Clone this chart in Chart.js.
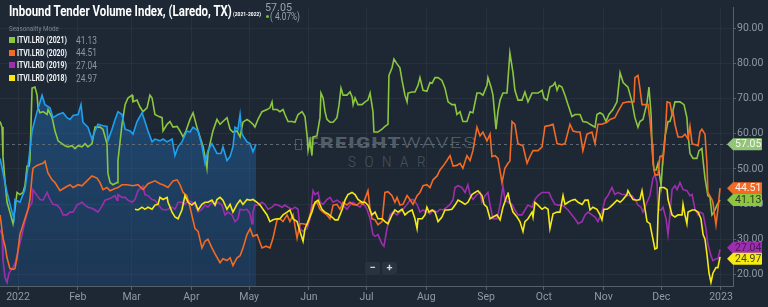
<!DOCTYPE html>
<html>
<head>
<meta charset="utf-8">
<script src="https://cdn.jsdelivr.net/npm/chart.js@4.4.1/dist/chart.umd.min.js"></script>
<style>
  html, body { margin: 0; padding: 0; background: #1d2834; }
  #wrap { position: relative; width: 768px; height: 307px; overflow: hidden; font-family: Roboto, sans-serif; }
  #c { position: absolute; left: 0; top: 0; z-index: 1; }
  .ov { position: absolute; z-index: 2; white-space: nowrap; line-height: 1; transform-origin: 0 50%; }
  .wm { position: absolute; z-index: 0; white-space: nowrap; line-height: 1; transform-origin: 0 50%; }
  .sq { position: absolute; z-index: 2; width: 5.5px; height: 5.5px; }
  .lbl { font-size: 8.5px; font-weight: 700; color: #f2f4f6; }
  .val { font-size: 10px; color: #8c96a0; }
  .btn { position: absolute; z-index: 2; width: 15px; height: 12px; background: #28333f; border-radius: 2px;
         color: #d5dade; font-size: 11px; font-weight: 700; text-align: center; line-height: 12px; }
</style>
</head>
<body>
<div id="wrap">
  <div class="wm" style="left:295px;top:139px;width:5px;height:9px;border:1px solid #4b555f;"></div>
  <div class="wm" data-w="170" style="left:307px;top:136px;font-size:14px;letter-spacing:1px;"><span style="font-weight:900;color:#525c67">FREIGHT</span><span style="font-weight:300;color:#58626d">WAVES</span></div>
  <div class="wm" data-w="86" style="left:348px;top:155px;font-size:14px;font-weight:300;letter-spacing:9px;color:#4a545f">SONAR</div>

  <canvas id="c" width="768" height="307"></canvas>

  <div class="ov" data-w="223" style="left:9px;top:4.2px;font-size:14px;font-weight:700;color:#ffffff">Inbound Tender Volume Index, (Laredo, TX)</div>
  <div class="ov" data-w="28" style="left:233px;top:11.6px;font-size:5.5px;font-weight:700;color:#ffffff">(2021-2022)</div>
  <div class="ov" data-w="27" style="left:265px;top:2.7px;font-size:10.5px;color:#9aa3ab">57.05</div>
  <div class="ov" style="left:265.5px;top:14.5px;width:3.5px;height:3.5px;border-radius:50%;background:#7cc242"></div>
  <div class="ov" data-w="30" style="left:270px;top:11.7px;font-size:10px;color:#9aa3ab">( 4.07%)</div>

  <div class="ov" data-w="50" style="left:9px;top:26px;font-size:7px;color:#7a8590">Seasonality Mode</div>

  <div class="sq" style="left:9px;top:37.3px;background:#8cc63e"></div>
  <div class="ov lbl" data-w="50" style="left:17px;top:36.2px">ITVI.LRD (2021)</div>
  <div class="ov val" data-w="21" style="left:76px;top:35.6px">41.13</div>

  <div class="sq" style="left:9px;top:50px;background:#f26a24"></div>
  <div class="ov lbl" data-w="50" style="left:17px;top:48.9px">ITVI.LRD (2020)</div>
  <div class="ov val" data-w="21" style="left:76px;top:48.3px">44.51</div>

  <div class="sq" style="left:9px;top:62.3px;background:#9c2fad"></div>
  <div class="ov lbl" data-w="50" style="left:17px;top:61.2px">ITVI.LRD (2019)</div>
  <div class="ov val" data-w="21" style="left:76px;top:60.6px">27.04</div>

  <div class="sq" style="left:9px;top:75.3px;background:#f5ea14"></div>
  <div class="ov lbl" data-w="50" style="left:17px;top:74.2px">ITVI.LRD (2018)</div>
  <div class="ov val" data-w="21" style="left:76px;top:73.6px">24.97</div>

  <div class="btn" style="left:365px;top:262px">&minus;</div>
  <div class="btn" style="left:382px;top:262px">+</div>
</div>

<script>
// axis extents and ticks (x in days since 1 Jan 2022)
const xMin = -9.35, xMax = 371.24;
const yMin = 16.66, yMax = 96.02;
const monthDays = [0, 31, 59, 90, 120, 151, 181, 212, 243, 273, 304, 334, 365];
const monthLabels = ['2022', 'Feb', 'Mar', 'Apr', 'May', 'Jun', 'Jul', 'Aug', 'Sep', 'Oct', 'Nov', 'Dec', '2023'];
const yTicks = [20, 30, 40, 50, 60, 70, 80, 90];

// 2022 (current, filled)
const itvi2022 = [
  [-9.3,53.0],[-5.7,43.3],[-3.1,37.7],[-2.1,35.8],[-1.6,41.3],[1.0,40.5],[3.6,44.1],[5.2,50.8],
  [7.3,60.8],[9.9,66.3],[12.5,71.0],[14.0,68.3],[16.6,67.4],[18.2,64.6],[20.8,65.5],[23.4,66.0],
  [25.4,64.6],[27.0,64.1],[28.6,65.2],[31.2,65.5],[32.7,68.3],[33.7,63.3],[36.3,61.9],[38.4,58.5],
  [40.0,60.8],[41.5,62.7],[44.1,62.3],[46.2,62.1],[46.7,58.0],[48.8,61.3],[50.4,64.1],[51.9,66.3],
  [54.0,65.5],[55.6,61.3],[58.2,60.8],[59.7,59.9],[61.8,63.5],[64.4,66.0],[65.9,63.5],[67.5,60.8],
  [69.6,57.7],[71.1,58.5],[73.7,58.0],[75.3,58.5],[77.4,57.7],[80.0,58.5],[81.5,53.8],[83.1,56.3],
  [85.1,57.7],[87.7,60.8],[89.3,60.5],[90.9,61.9],[93.5,60.8],[95.5,56.6],[97.1,51.6],[98.6,55.2],
  [100.7,57.2],[103.3,54.4],[105.4,54.4],[106.4,56.3],[108.5,52.4],[110.1,53.5],[111.6,56.3],[112.7,61.9],
  [114.2,61.3],[115.3,65.5],[116.3,59.9],[118.9,57.7],[120.5,57.2],[122.0,54.9],[123.6,57.05]
];

const itvi2021 = [
  [-9.3,63.5],[-8.3,61.9],[-7.8,53.5],[-6.7,46.1],[-5.7,40.5],[-4.2,37.7],[-2.6,34.4],[-1.6,38.5],
  [-0.5,43.3],[1.0,42.7],[2.6,43.3],[3.6,45.2],[4.7,50.8],[5.7,50.8],[6.2,52.4],[7.3,73.0],
  [8.8,73.3],[9.9,71.0],[10.4,67.4],[11.4,66.0],[13.0,66.3],[15.1,65.5],[15.6,66.9],[17.7,64.6],
  [19.2,60.8],[20.8,58.0],[22.8,57.2],[24.4,56.6],[26.0,56.3],[28.0,56.6],[29.6,55.8],[31.2,56.6],
  [33.2,56.3],[34.8,57.2],[36.3,56.3],[38.4,57.2],[40.0,61.9],[42.6,61.9],[44.1,61.3],[46.2,57.2],
  [46.7,48.8],[47.8,46.1],[49.3,45.5],[51.4,46.1],[51.9,52.4],[54.0,62.7],[55.6,68.3],[57.1,70.2],
  [59.2,71.0],[59.7,69.1],[61.8,69.6],[63.3,67.7],[64.9,66.3],[67.0,67.4],[68.5,71.0],[69.6,70.2],
  [71.1,65.5],[73.2,64.9],[74.8,64.6],[75.3,60.8],[77.4,62.7],[78.9,63.5],[80.5,61.9],[82.6,62.1],
  [84.1,60.8],[85.7,59.1],[87.2,60.8],[89.3,64.1],[90.9,66.0],[92.9,61.9],[94.5,59.1],[96.1,56.3],
  [97.1,53.5],[98.1,50.2],[98.6,54.4],[99.7,57.2],[101.2,60.8],[103.3,64.1],[104.9,62.7],[106.4,63.5],
  [108.5,64.6],[110.1,61.3],[111.6,60.5],[113.7,60.8],[115.3,59.1],[116.8,63.3],[118.9,64.1],[120.5,63.5],
  [122.0,62.7],[123.0,61.9],[124.6,64.1],[126.7,66.3],[129.3,66.9],[130.8,67.4],[131.9,69.1],[132.4,66.9],
  [134.5,66.9],[136.0,66.3],[137.6,66.9],[138.6,65.5],[140.2,63.5],[142.3,63.5],[143.8,63.3],[145.4,65.5],
  [147.5,66.3],[149.0,64.9],[150.1,59.4],[150.6,55.2],[151.6,58.0],[152.6,53.8],[153.2,59.1],[155.2,59.4],
  [156.8,64.6],[157.3,71.6],[158.4,70.2],[159.4,66.3],[160.4,64.1],[162.0,63.3],[163.6,63.3],[165.6,64.6],
  [166.7,68.3],[167.7,73.0],[168.8,71.0],[170.8,71.0],[172.4,71.9],[173.5,70.5],[174.0,68.3],[175.0,70.2],
  [176.5,68.3],[178.6,68.3],[180.2,69.1],[181.7,69.6],[182.8,71.6],[184.3,66.3],[184.8,60.5],[186.9,60.5],
  [189.0,61.3],[190.5,62.1],[192.1,62.7],[192.6,76.6],[194.2,78.8],[195.2,81.3],[196.8,79.9],[198.3,78.8],
  [199.4,75.2],[200.9,71.0],[202.0,69.1],[202.5,71.6],[204.6,71.9],[206.1,71.9],[207.7,73.8],[208.7,76.0],
  [210.3,72.4],[212.3,72.1],[213.9,74.6],[215.0,74.4],[216.5,76.0],[218.1,76.0],[220.1,75.2],[221.7,73.0],
  [223.3,69.1],[225.3,68.3],[226.9,68.3],[227.9,65.5],[229.5,66.3],[231.0,63.5],[233.1,63.5],[234.7,66.3],
  [236.2,66.0],[238.3,71.6],[239.9,71.6],[241.4,71.0],[243.5,73.8],[244.0,76.0],[245.6,73.3],[246.6,71.0],
  [248.2,61.3],[249.2,66.3],[250.3,69.6],[251.8,71.6],[253.9,71.6],[255.4,83.0],[257.0,77.4],[258.0,72.4],
  [259.6,69.6],[261.7,69.6],[263.2,71.9],[264.8,69.1],[266.9,71.6],[268.4,71.6],[270.0,71.6],[272.1,72.4],
  [273.1,70.2],[274.7,69.6],[276.2,73.3],[277.8,73.8],[278.8,74.6],[279.9,72.4],[280.9,73.8],[282.4,73.3],
  [284.0,71.0],[285.6,68.3],[287.6,64.9],[289.2,65.5],[291.8,65.5],[293.3,63.5],[295.4,63.3],[297.0,62.7],
  [299.6,61.9],[300.6,65.5],[302.2,66.0],[303.7,65.5],[305.3,63.5],[306.8,65.5],[308.9,66.9],[311.0,69.1],
  [312.6,77.4],[314.2,74.6],[316.7,73.3],[318.8,69.1],[320.3,64.6],[321.9,61.9],[322.9,63.5],[324.5,64.1],
  [326.6,68.8],[327.6,73.3],[328.7,65.5],[329.2,56.3],[330.2,49.7],[331.3,49.7],[332.3,51.6],[333.9,45.2],
  [334.9,53.5],[335.9,59.1],[337.5,63.5],[338.5,63.5],[339.6,65.5],[341.1,69.1],[343.7,69.1],[345.8,68.3],
  [347.3,64.6],[347.9,59.9],[348.9,54.4],[350.5,53.0],[352.5,53.0],[353.6,55.2],[355.1,55.8],[355.7,52.4],
  [356.7,47.4],[358.2,42.4],[359.3,41.9],[360.3,36.9],[361.4,37.7],[362.9,39.7],[364.5,41.13]
];

const itvi2020 = [
  [-9.3,36.9],[-7.8,30.3],[-6.7,28.0],[-5.7,24.7],[-4.2,21.6],[-2.6,21.4],[-1.6,21.6],[-0.5,24.7],
  [1.0,31.3],[3.6,35.8],[5.2,38.5],[6.2,41.3],[7.3,48.0],[7.8,50.2],[9.9,51.0],[11.4,51.3],
  [13.0,51.6],[14.0,52.2],[15.6,48.8],[17.7,46.9],[19.2,46.1],[21.8,43.8],[24.4,44.7],[27.0,45.5],
  [28.6,44.7],[31.2,45.5],[33.2,45.2],[35.8,46.6],[38.4,48.0],[41.0,47.4],[42.6,46.1],[44.1,44.1],
  [46.2,44.7],[47.8,43.8],[50.4,44.4],[51.9,44.7],[54.0,45.5],[56.6,45.5],[59.7,45.2],[62.3,45.5],
  [64.9,44.1],[67.5,45.8],[71.1,46.6],[73.7,45.8],[75.3,45.5],[77.9,44.7],[80.5,46.6],[82.6,46.9],
  [84.1,45.5],[85.7,43.3],[87.7,42.4],[89.3,39.1],[91.9,33.0],[93.5,32.2],[95.5,27.5],[97.1,29.4],
  [98.6,30.0],[100.7,27.5],[102.3,25.8],[104.9,23.3],[106.4,24.4],[108.5,23.9],[110.1,24.7],[111.6,22.5],
  [113.7,24.7],[115.3,25.3],[116.8,27.5],[118.9,31.3],[120.5,33.0],[122.0,30.8],[124.1,31.3],[126.7,27.5],
  [128.8,28.0],[130.8,27.5],[132.4,30.3],[134.5,35.5],[136.0,35.8],[137.6,35.0],[139.7,36.9],[141.2,35.0],
  [142.8,36.9],[144.9,30.3],[146.4,34.4],[148.0,34.4],[150.1,34.1],[151.6,36.9],[153.2,39.7],[155.2,40.5],
  [156.8,38.5],[158.4,37.7],[160.4,36.9],[162.0,35.8],[163.6,39.7],[165.6,39.9],[167.2,38.5],[168.8,40.5],
  [170.8,39.7],[172.4,40.5],[173.9,39.9],[176.0,39.7],[177.6,40.5],[179.1,39.9],[181.7,43.8],[182.8,38.5],
  [183.8,35.8],[185.4,35.5],[186.9,34.1],[189.0,35.0],[190.5,43.3],[192.1,43.5],[194.2,42.4],[195.7,40.5],
  [196.8,41.9],[198.3,39.7],[199.9,39.9],[202.0,42.4],[203.5,41.3],[205.1,39.9],[207.2,42.4],[208.7,43.3],
  [210.3,45.2],[212.3,45.5],[213.9,44.7],[215.5,46.9],[217.6,48.0],[219.1,49.7],[220.7,50.8],[222.7,52.4],
  [224.3,53.8],[225.9,50.8],[227.9,51.0],[229.5,51.6],[231.0,50.2],[233.1,53.8],[234.7,52.4],[236.2,55.2],
  [238.3,61.9],[239.9,59.4],[241.4,60.5],[243.5,58.0],[245.1,59.9],[246.1,53.5],[247.7,53.8],[249.2,53.0],
  [251.3,46.1],[252.8,50.2],[254.4,51.6],[255.4,52.2],[256.5,63.5],[258.0,62.7],[259.6,57.2],[262.2,56.6],
  [264.3,51.6],[265.8,53.5],[267.4,55.2],[270.0,55.2],[272.1,56.3],[273.6,62.1],[276.2,62.4],[277.8,62.7],
  [279.9,57.2],[282.4,56.9],[284.0,57.2],[286.6,62.7],[288.2,60.8],[290.2,60.5],[291.8,60.5],[293.3,55.2],
  [295.4,59.9],[298.0,60.5],[299.6,57.2],[301.1,62.7],[303.2,62.7],[305.8,63.3],[307.4,64.1],[309.9,64.6],
  [311.5,66.3],[314.1,68.8],[316.7,69.1],[318.8,69.1],[319.8,69.1],[320.3,76.0],[321.9,76.6],[322.9,73.0],
  [324.0,68.3],[327.1,68.3],[328.1,64.1],[329.2,57.2],[329.7,51.6],[330.7,48.3],[332.3,48.3],[333.3,53.5],
  [334.4,53.8],[334.9,52.4],[335.9,58.0],[337.0,69.1],[338.5,68.8],[339.6,65.5],[340.1,66.3],[341.1,62.7],
  [342.7,59.1],[344.8,59.1],[346.3,59.9],[347.9,58.5],[348.9,62.1],[350.0,57.2],[353.1,56.6],[354.1,60.5],
  [355.1,61.3],[356.7,59.9],[357.7,51.6],[358.2,43.3],[360.3,41.3],[360.8,40.5],[362.4,34.1],[363.4,38.5],
  [364.5,44.51]
];

const itvi2019 = [
  [-9.3,32.7],[-8.3,31.3],[-7.8,23.9],[-6.7,19.1],[-5.7,17.7],[-4.7,20.3],[-3.1,21.6],[-1.6,23.0],
  [0.0,26.6],[2.1,31.3],[3.6,35.0],[5.2,38.3],[7.3,40.5],[7.8,44.1],[9.9,42.4],[11.4,41.3],
  [13.0,41.1],[15.1,43.3],[16.6,41.3],[18.2,39.9],[20.2,39.7],[21.8,38.8],[23.4,36.9],[25.4,36.9],
  [27.0,37.7],[28.6,37.7],[30.6,39.7],[33.2,40.5],[34.8,39.7],[36.3,39.1],[38.4,38.8],[40.0,38.3],
  [41.5,37.7],[43.6,39.4],[45.2,41.1],[47.8,41.6],[50.4,42.4],[51.4,41.1],[51.9,42.7],[54.0,41.9],
  [55.6,41.9],[57.1,41.1],[59.2,40.5],[60.7,41.3],[62.3,43.8],[64.9,45.2],[65.9,42.7],[67.5,42.4],
  [69.6,41.3],[71.1,41.1],[72.7,39.9],[74.8,38.5],[76.3,38.3],[77.9,38.5],[80.0,39.1],[81.5,38.5],
  [83.1,40.5],[85.1,40.5],[86.7,39.9],[88.3,41.1],[90.3,40.5],[91.9,39.7],[93.5,37.7],[95.5,38.5],
  [97.1,39.7],[98.6,39.1],[100.7,40.5],[102.3,39.7],[103.8,40.5],[105.9,39.7],[107.5,36.9],[109.0,37.7],
  [111.1,36.9],[112.7,35.0],[114.2,35.8],[115.3,38.5],[116.8,38.3],[118.9,38.5],[120.5,37.2],[121.5,34.4],
  [122.0,37.7],[123.0,39.7],[124.6,39.7],[126.7,40.5],[128.2,39.9],[129.8,38.5],[131.9,39.1],[133.4,39.9],
  [135.0,39.7],[137.1,39.1],[138.6,39.7],[140.2,39.1],[142.3,38.5],[143.8,39.1],[145.4,38.5],[146.4,33.0],
  [148.0,32.2],[150.1,33.0],[151.6,35.8],[153.2,43.8],[154.2,42.7],[155.8,43.3],[156.8,40.5],[158.4,39.9],
  [160.4,41.3],[162.0,41.9],[163.6,40.5],[165.6,41.1],[167.2,40.5],[168.8,39.7],[170.8,38.5],[172.4,39.7],
  [173.9,40.5],[176.0,39.7],[177.6,39.1],[179.1,40.5],[181.2,38.5],[182.8,35.8],[184.3,31.3],[185.4,30.8],
  [186.9,31.3],[189.0,28.6],[190.0,28.0],[191.6,33.0],[193.1,36.9],[194.7,37.7],[196.8,36.9],[198.3,37.7],
  [199.9,38.5],[202.0,39.9],[203.5,41.1],[205.1,41.3],[207.2,39.9],[208.7,37.7],[210.3,38.3],[212.3,37.7],
  [213.9,37.2],[215.5,38.3],[217.6,37.7],[219.1,38.5],[220.7,38.3],[222.7,39.1],[224.3,39.9],[225.9,41.3],
  [226.9,44.7],[228.5,45.2],[230.5,44.7],[232.1,43.3],[233.6,45.5],[234.7,42.7],[236.2,41.3],[238.3,42.7],
  [239.9,43.3],[240.9,40.5],[242.5,42.4],[244.0,43.3],[245.1,39.7],[246.6,35.8],[248.7,35.8],[250.3,39.7],
  [251.8,45.2],[252.8,41.3],[254.4,40.5],[256.5,39.9],[258.0,38.3],[259.6,36.9],[261.7,36.9],[263.2,38.3],
  [264.8,39.7],[266.9,39.1],[268.4,41.3],[270.0,42.4],[272.1,43.3],[273.6,43.3],[275.7,43.3],[277.3,41.3],
  [278.8,39.9],[280.4,39.7],[282.4,39.7],[284.0,39.1],[285.6,38.3],[287.6,36.9],[289.2,35.8],[290.8,34.4],
  [292.9,35.0],[294.4,36.9],[296.0,37.7],[298.0,36.9],[299.6,36.3],[301.1,35.0],[303.2,37.7],[304.8,41.3],
  [306.3,42.4],[308.4,44.7],[309.9,42.7],[311.5,43.3],[313.6,42.7],[315.2,42.7],[316.7,42.4],[318.8,42.4],
  [320.3,41.3],[321.9,39.7],[323.5,39.1],[324.5,37.7],[326.6,40.5],[328.1,42.4],[329.7,47.4],[330.7,48.3],
  [331.8,46.1],[332.3,38.5],[333.9,38.3],[334.9,39.1],[336.5,35.8],[337.5,31.3],[338.5,36.9],[339.6,44.1],
  [341.1,45.2],[342.2,44.1],[343.7,46.1],[345.3,44.1],[347.3,43.8],[348.9,42.4],[350.0,42.7],[351.5,38.5],
  [353.1,36.9],[354.1,37.7],[355.7,37.2],[357.2,33.0],[358.2,28.6],[359.8,25.3],[360.8,23.9],[362.4,24.4],
  [363.4,24.4],[364.5,27.04]
];

const itvi2018 = [
  [60.7,38.5],[62.3,38.3],[64.4,39.1],[65.9,38.5],[67.5,39.1],[69.6,38.5],[71.1,39.7],[72.7,39.9],
  [73.7,41.9],[75.3,41.3],[77.4,41.9],[77.9,40.5],[80.0,37.7],[81.5,36.3],[83.1,35.8],[85.1,38.3],
  [86.7,42.4],[88.3,40.5],[90.3,39.7],[91.9,40.5],[93.5,38.3],[95.5,39.9],[97.1,40.5],[98.6,40.5],
  [100.7,41.1],[102.3,39.7],[103.3,41.3],[104.9,41.9],[106.4,41.1],[108.5,38.5],[110.1,39.9],[111.6,37.7],
  [113.7,39.9],[115.3,41.1],[116.8,39.9],[118.9,41.3],[120.5,41.1],[122.0,41.3],[124.1,40.5],[125.7,39.7],
  [127.2,38.5],[129.3,36.9],[130.8,35.0],[132.4,35.5],[134.5,35.8],[136.0,35.8],[137.6,36.9],[139.7,37.7],
  [141.2,38.3],[142.8,35.8],[144.9,35.0],[146.4,32.2],[148.0,29.4],[149.0,33.0],[150.6,35.0],[152.6,37.7],
  [154.2,40.5],[155.8,41.1],[157.8,38.5],[159.4,37.7],[161.0,37.2],[163.0,36.3],[164.6,35.5],[166.1,35.5],
  [168.2,38.3],[169.8,41.1],[171.3,42.7],[173.4,43.3],[175.0,42.7],[176.5,41.3],[178.6,40.5],[180.2,40.5],
  [181.7,39.7],[183.8,36.9],[185.4,37.7],[186.9,35.8],[189.0,35.8],[190.5,35.0],[192.1,34.4],[194.2,36.9],
  [195.7,38.3],[197.3,37.7],[199.4,38.5],[200.9,36.9],[202.5,37.7],[204.6,38.3],[206.1,35.8],[207.2,33.0],
  [207.7,35.8],[209.8,35.8],[211.3,36.9],[212.3,39.1],[213.4,37.7],[215.0,38.3],[216.5,37.7],[218.1,35.0],
  [220.1,36.3],[221.7,38.3],[223.3,38.3],[225.3,38.5],[226.9,39.7],[228.5,41.1],[230.5,40.5],[232.1,39.9],
  [233.6,40.5],[235.7,42.7],[237.3,43.3],[238.8,43.8],[240.9,42.4],[242.0,39.9],[243.5,39.1],[245.1,35.8],
  [246.6,36.3],[248.7,36.9],[250.3,35.5],[251.8,39.1],[253.9,42.4],[254.4,43.3],[255.4,40.5],[257.0,37.7],
  [259.1,36.3],[260.6,35.0],[262.2,32.2],[263.2,35.0],[264.8,35.8],[266.9,37.7],[267.4,36.3],[268.4,40.5],
  [270.0,39.7],[272.1,38.5],[273.6,39.1],[275.2,38.5],[276.2,33.0],[277.8,37.2],[279.9,37.7],[281.4,37.7],
  [283.0,42.4],[284.0,39.9],[285.6,40.5],[287.6,41.1],[289.2,41.3],[290.8,40.5],[292.9,39.9],[294.4,41.1],
  [296.0,41.1],[297.0,38.3],[298.5,39.1],[300.6,38.5],[302.2,36.9],[303.2,35.5],[304.2,38.5],[305.8,38.5],
  [307.4,39.1],[308.9,39.9],[311.0,41.1],[312.6,40.5],[314.1,41.3],[316.2,42.7],[316.7,43.8],[317.8,42.7],
  [319.3,41.3],[321.4,41.1],[322.9,41.3],[324.0,43.8],[325.0,40.5],[326.6,35.0],[328.1,34.4],[329.2,31.3],
  [330.7,27.2],[331.8,27.5],[332.3,36.9],[333.3,44.7],[335.4,44.7],[337.0,44.1],[337.5,41.3],[339.6,36.9],
  [341.1,36.3],[342.7,36.9],[344.8,36.9],[345.3,39.9],[346.3,36.9],[347.3,34.4],[347.9,37.7],[350.0,38.3],
  [351.5,38.3],[353.1,37.7],[354.6,35.8],[355.7,31.3],[356.7,30.0],[357.7,25.8],[358.8,20.3],[359.8,17.7],
  [360.8,20.3],[362.4,21.9],[363.4,21.9],[364.5,24.97]
];

const colors = {
  y2022: '#1fa0ee',
  y2021: '#8cc63e',
  y2020: '#f26a24',
  y2019: '#9c2fad',
  y2018: '#f5ea14',
  grid: 'rgba(255,255,255,0.045)',
  axis: '#56606b',
  tick: '#8f99a3',
  dash: '#5e6974'
};

Chart.defaults.font.family = "Roboto, 'Noto Sans', sans-serif";

function last(arr) { return arr[arr.length - 1][1]; }

function lineSet(label, data, color) {
  return { label: label, data: data, borderColor: color, borderWidth: 1.6, pointRadius: 0, fill: false, tension: 0 };
}

/* dashed reference line + coloured value flags on the right axis */
const flags = {
  id: 'flags',
  beforeDatasetsDraw: function (chart) {
    const ctx = chart.ctx, a = chart.chartArea;
    const yy = Math.round(chart.scales.y.getPixelForValue(last(itvi2022))) + 0.5;
    ctx.save();
    ctx.strokeStyle = colors.dash;
    ctx.lineWidth = 1;
    ctx.setLineDash([3, 3]);
    ctx.beginPath();
    ctx.moveTo(a.left, yy);
    ctx.lineTo(a.right, yy);
    ctx.stroke();
    ctx.restore();
  },
  afterDraw: function (chart) {
    const ctx = chart.ctx, a = chart.chartArea, y = chart.scales.y;
    const items = [
      { v: last(itvi2022), bg: '#93c477', fg: '#f4f9f0' },
      { v: last(itvi2020), bg: colors.y2020, fg: '#fff1e8' },
      { v: last(itvi2021), bg: colors.y2021, fg: '#2c3a1f' },
      { v: last(itvi2019), bg: colors.y2019, fg: '#4d1758' },
      { v: last(itvi2018), bg: colors.y2018, fg: '#4a4418' }
    ];
    items.forEach(function (it) { it.py = y.getPixelForValue(it.v); });
    items.sort(function (p, q) { return p.py - q.py; });
    // push overlapping flags apart
    for (let k = 0; k < 20; k++) {
      for (let i = 1; i < items.length; i++) {
        const gap = items[i].py - items[i - 1].py;
        if (gap < 11) {
          const d = (11 - gap) / 2;
          items[i].py += d;
          items[i - 1].py -= d;
        }
      }
    }
    ctx.save();
    ctx.font = '10.5px Roboto, sans-serif';
    ctx.textBaseline = 'middle';
    ctx.textAlign = 'left';
    items.forEach(function (it) {
      const t = it.py - 6, b = it.py + 6, l = a.right - 1, r = 762;
      ctx.fillStyle = it.bg;
      ctx.beginPath();
      ctx.moveTo(a.right - 6, it.py);
      ctx.lineTo(l + 1, t);
      ctx.lineTo(r - 1, t);
      ctx.quadraticCurveTo(r, t, r, t + 1);
      ctx.lineTo(r, b - 1);
      ctx.quadraticCurveTo(r, b, r - 1, b);
      ctx.lineTo(l + 1, b);
      ctx.closePath();
      ctx.fill();
      ctx.fillStyle = it.fg;
      ctx.fillText(it.v.toFixed(2), a.right + 2, it.py + 0.5);
    });
    ctx.restore();
  }
};

new Chart(document.getElementById('c'), {
  type: 'line',
  data: {
    datasets: [
      {
        label: 'ITVI.LRD (2022)',
        data: itvi2022,
        borderColor: colors.y2022,
        borderWidth: 1.6,
        pointRadius: 0,
        tension: 0,
        fill: 'start',
        backgroundColor: function (c) {
          const a = c.chart.chartArea;
          if (!a) return 'rgba(30,110,180,0.3)';
          const g = c.chart.ctx.createLinearGradient(0, a.top + 80, 0, a.bottom);
          g.addColorStop(0, 'rgba(35,120,200,0.42)');
          g.addColorStop(1, 'rgba(30,90,160,0.3)');
          return g;
        }
      },
      lineSet('ITVI.LRD (2018)', itvi2018, colors.y2018),
      lineSet('ITVI.LRD (2020)', itvi2020, colors.y2020),
      lineSet('ITVI.LRD (2021)', itvi2021, colors.y2021),
      lineSet('ITVI.LRD (2019)', itvi2019, colors.y2019)
    ]
  },
  options: {
    responsive: false,
    animation: false,
    layout: { padding: 0 },
    plugins: {
      legend: { display: false },
      tooltip: { enabled: false },
      filler: { drawTime: 'beforeDatasetsDraw' }
    },
    scales: {
      x: {
        type: 'linear',
        min: xMin,
        max: xMax,
        afterBuildTicks: function (s) { s.ticks = monthDays.map(function (v) { return { value: v }; }); },
        afterFit: function (s) { s.height = 21; },
        ticks: {
          autoSkip: false,
          maxRotation: 0,
          padding: 1,
          color: colors.tick,
          font: { size: 10.5 },
          callback: function (v, i) { return monthLabels[i]; }
        },
        grid: { color: colors.grid, tickColor: colors.axis, tickLength: 4 },
        border: { color: colors.axis }
      },
      y: {
        position: 'right',
        min: yMin,
        max: yMax,
        afterBuildTicks: function (s) { s.ticks = yTicks.map(function (v) { return { value: v }; }); },
        afterFit: function (s) { s.width = 35; },
        ticks: {
          padding: 1,
          color: colors.tick,
          font: { size: 10.5 },
          callback: function (v) { return Number(v).toFixed(2); }
        },
        grid: { color: colors.grid, tickColor: colors.axis, tickLength: 3 },
        border: { color: colors.axis }
      }
    }
  },
  plugins: [flags]
});

/* squeeze or stretch overlay texts to the widths seen in the picture */
function fitTexts() {
  document.querySelectorAll('[data-w]').forEach(function (el) {
    el.style.transform = 'none';
    const w = el.getBoundingClientRect().width;
    if (w > 0) el.style.transform = 'scaleX(' + (Number(el.dataset.w) / w).toFixed(3) + ')';
  });
}
fitTexts();
if (document.fonts && document.fonts.ready) document.fonts.ready.then(fitTexts);
</script>
</body>
</html>
